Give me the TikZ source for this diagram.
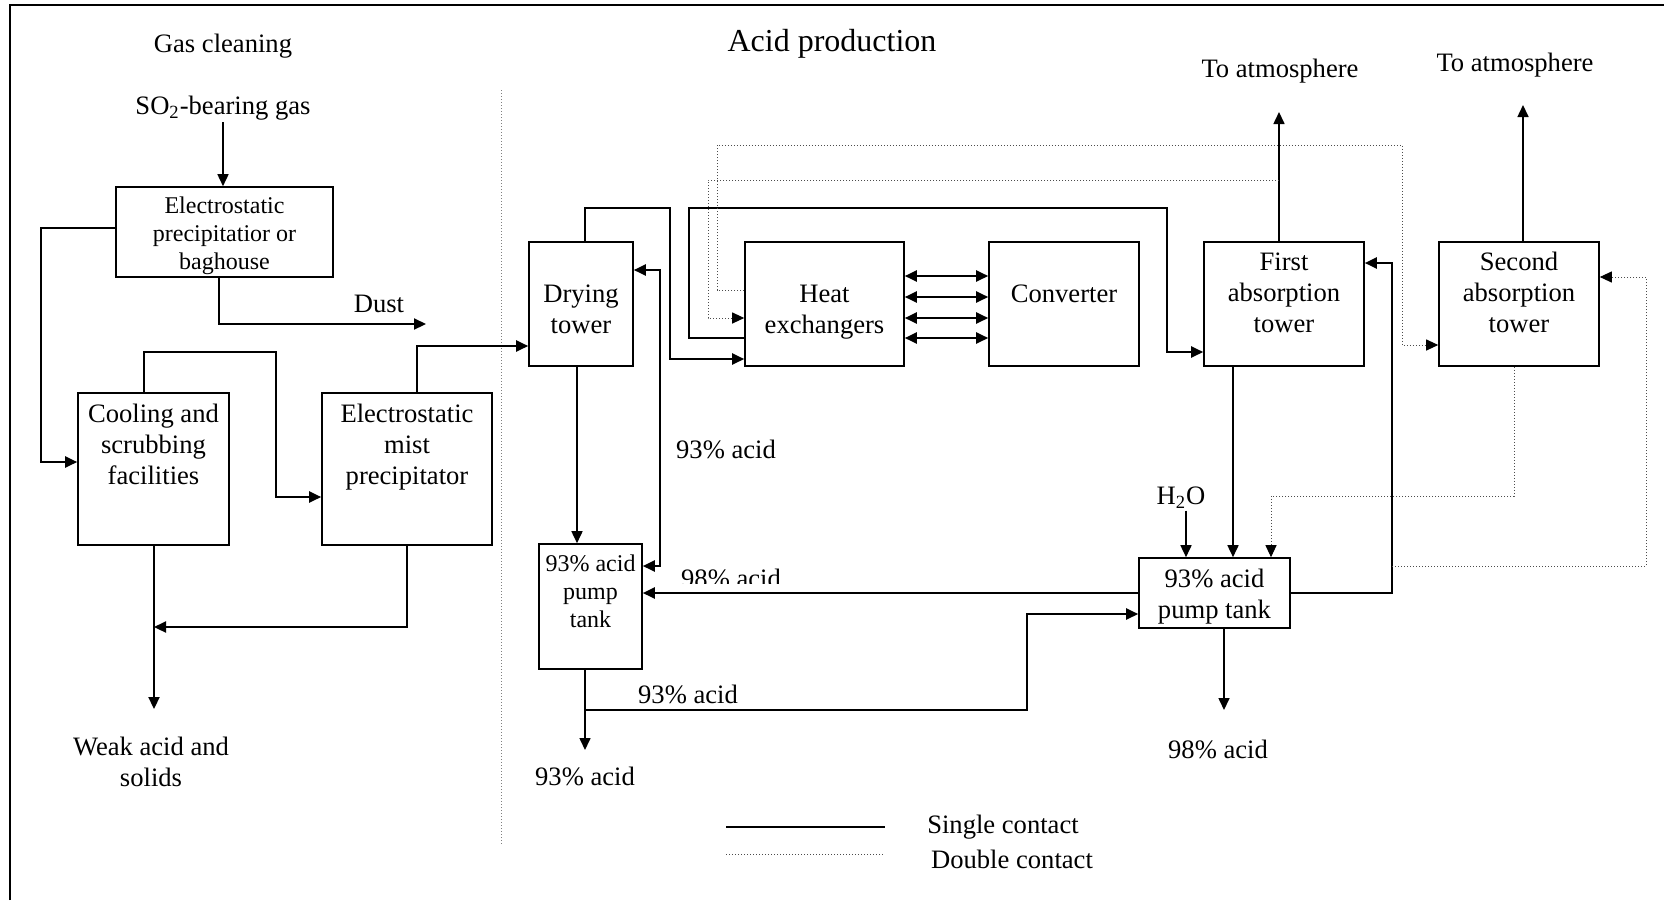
\documentclass[tikz,border=0pt]{standalone}
\usepackage{fontspec}
\setmainfont{Liberation Serif}
\usetikzlibrary{arrows.meta,positioning,calc}

\newcommand{\txtn}{\fontsize{13.3}{15.5}\selectfont}
\newcommand{\txts}{\fontsize{12}{14}\selectfont}
\newcommand{\txtl}{\fontsize{16}{19}\selectfont}

\tikzset{
  box/.style={draw, line width=0.8pt, inner sep=0pt},
  boxtext/.style={anchor=north, align=center, inner sep=0pt, font=\txtn},
  lbl/.style={anchor=base, inner sep=1pt, font=\txtn},
  flow/.style={line width=1.1pt, -{Triangle[length=6pt,width=5.5pt]}},
  flowthin/.style={line width=0.8pt, -{Triangle[length=6pt,width=5.5pt]}},
  flowboth/.style={line width=1.1pt, {Triangle[length=6pt,width=5.5pt]}-{Triangle[length=6pt,width=5.5pt]}},
  dflow/.style={densely dotted, line width=0.5pt, black!70, -{Triangle[length=6pt,width=5.5pt,black]}}
}

\begin{document}
\begin{tikzpicture}[x=0.5pt, y=-0.5pt]
\useasboundingbox (0,0) rectangle (1664,900);

% frame and divider
\draw[line width=1.2pt] (10,900) -- (10,5) -- (1664,5);
\draw[densely dotted, gray, line width=0.5pt] (501,90) -- (501,845);

% section titles
\node[lbl] (tgas) at (223,52) {Gas cleaning};
\node[lbl, font=\txtl] (tacid) at (832,51) {Acid production};

% gas cleaning units
\node[lbl] (so2) at (223,114) {SO\textsubscript{2}-bearing gas};
\node[box, minimum width=108.5pt, minimum height=45pt,
  label={[boxtext, font=\txts, yshift=-5.3pt]north:{Electrostatic\\precipitatior or\\baghouse}}] (esp) at (224.5,232) {};
\node[box, minimum width=75.5pt, minimum height=76pt,
  label={[boxtext, yshift=-5.9pt]north:{Cooling and\\scrubbing\\facilities}}] (cool) at (153.5,469) {};
\node[box, minimum width=85pt, minimum height=76pt,
  label={[boxtext, yshift=-5.9pt]north:{Electrostatic\\mist\\precipitator}}] (mist) at (407,469) {};
\node[lbl] (dust) at (379,312) {Dust};
\node[boxtext] (weak) at (151,737) {Weak acid and\\solids};
\coordinate (dustend) at (426,324);
\coordinate (weakend) at (154,709);
\coordinate (join1) at (154,627);

% acid production units
\node[box, minimum width=52pt, minimum height=62pt,
  label={[boxtext, yshift=-21.4pt]north:{Drying\\tower}}] (dry) at (581,304) {};
\node[box, minimum width=79.5pt, minimum height=62pt,
  label={[boxtext, yshift=-21.7pt]north:{Heat\\exchangers}}] (hx) at (824.5,304) {};
\node[box, minimum width=75pt, minimum height=62pt,
  label={[boxtext, yshift=-21.4pt]north:{Converter}}] (conv) at (1064,304) {};
\node[box, minimum width=80pt, minimum height=62pt,
  label={[boxtext, yshift=-5.8pt]north:{First\\absorption\\tower}}] (abs1) at (1284,304) {};
\node[box, minimum width=80pt, minimum height=62pt,
  label={[boxtext, yshift=-5.4pt]north:{Second\\absorption\\tower}}] (abs2) at (1519,304) {};
\node[box, minimum width=51.5pt, minimum height=62.5pt,
  label={[boxtext, font=\txts, yshift=-5.5pt]north:{93\% acid\\pump\\tank}}] (tank1) at (590.5,606.5) {};
\node[box, minimum width=75.5pt, minimum height=35pt,
  label={[boxtext, yshift=-5.9pt]north:{93\% acid\\pump tank}}] (tank2) at (1214.5,593) {};

\node[lbl] (atm1t) at (1280,77) {To atmosphere};
\node[lbl] (atm2t) at (1515,71) {To atmosphere};
\node[lbl] (h2o) at (1181,504) {H\textsubscript{2}O};
\node[lbl] (acid93a) at (726,458) {93\% acid};
\node[lbl] (acid93b) at (688,703) {93\% acid};
\node[lbl] (acid93c) at (585,785) {93\% acid};
\node[lbl] (acid98) at (1218,758) {98\% acid};
\begin{scope}
  \clip (660,550) rectangle (800,583);
  \node[lbl] (acid98b) at (731,587) {98\% acid};
\end{scope}
\coordinate (atm1) at (1279,112);
\coordinate (atm2) at (1523,105);
\coordinate (acidend) at (585,750);
\coordinate (split) at (585,710);
\coordinate (tap1) at (1279,180);
\coordinate (tap2) at (1392,566);

% gas cleaning flows
\draw[flowthin] (so2.south) -- (so2.south |- esp.north);
\draw[flow] (esp.west |- 0,228) -- (41,228) |- (cool.west |- 0,462);
\draw[flow] (esp.south -| 219,0) |- (dustend);
\draw[flow] (cool.north -| 144,0) |- (276,352) |- (mist.west |- 0,497);
\draw[flow] (mist.north -| 417,0) |- (dry.west |- 0,346);
\draw[flow] (cool.south -| 154,0) -- (weakend);
\draw[flow] (mist.south -| 407,0) |- (join1);

% single contact
\draw[flow] (dry.north -| 585,0) |- (670,208) |- (hx.west |- 0,359);
\draw[flow] (hx.west |- 0,338) -| (689,208) -| (1167,352) -- (abs1.west |- 0,352);
\foreach \y in {276,297,318,338}
  \draw[flowboth] (hx.east |- 0,\y) -- (conv.west |- 0,\y);
\draw[flowboth] (tank1.east |- 0,566) -| (660,270) -- (dry.east |- 0,270);
\draw[flowthin] (dry.south -| 577,0) -- (tank1.north -| 577,0);
\draw[flowthin] (abs1.north -| 1279,0) -- (atm1);
\draw[flowthin] (abs2.north -| 1523,0) -- (atm2);
\draw[flowthin] (abs1.south -| 1233,0) -- (tank2.north -| 1233,0);
\draw[flowthin] (h2o.south -| 1186,0) -- (tank2.north -| 1186,0);
\draw[flow] (tank2.east) -| (1392,263) -- (abs1.east |- 0,263);
\draw[flow] (tank2.west) -- (tank1.east |- tank2.west);
\draw[flowthin] (tank1.south -| 585,0) -- (acidend);
\draw[flow] (split) -| (1027,614) -- (tank2.west |- 0,614);
\draw[flowthin] (tank2.south -| 1224,0) -- (1224,710);

% double contact
\draw[dflow] (hx.west |- 0,290) -| (717,145) -| (1402,345) -- (abs2.west |- 0,345);
\draw[dflow] (tap1) -| (708,318) -- (hx.west |- 0,318);
\draw[dflow] (abs2.south -| 1514,0) |- (1271,496) -- (tank2.north -| 1271,0);
\draw[dflow] (tap2) -| (1646,277) -- (abs2.east |- 0,277);

% legend
\coordinate (leg1a) at (726,827);
\coordinate (leg1b) at (885,827);
\coordinate (leg2a) at (726,854);
\coordinate (leg2b) at (885,854);
\draw[line width=1.3pt] (leg1a) -- (leg1b);
\draw[densely dotted, line width=0.5pt, black!70] (leg2a) -- (leg2b);
\node[lbl] (single) at (1003,833) {Single contact};
\node[lbl] (double) at (1012,868) {Double contact};

\end{tikzpicture}
\end{document}
